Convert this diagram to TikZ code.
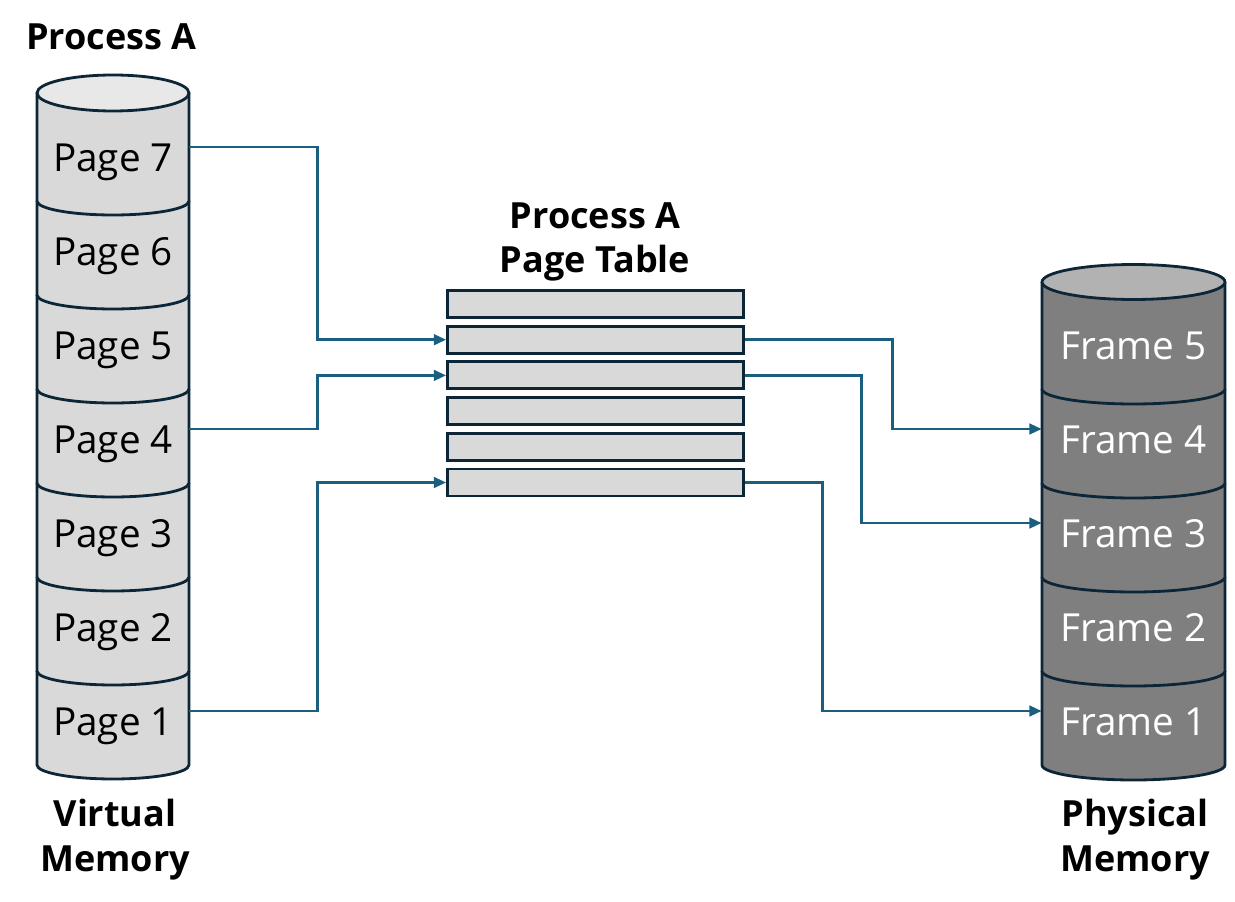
\documentclass[tikz,border=0pt]{standalone}
\usepackage{fontspec}
\setmainfont{Open Sans}
\usetikzlibrary{arrows.meta}

\definecolor{outline}{RGB}{12,38,55}
\definecolor{linkblue}{RGB}{26,94,128}
\definecolor{pagefill}{RGB}{217,217,217}
\definecolor{pagetop}{RGB}{232,232,232}
\definecolor{framefill}{RGB}{127,127,127}
\definecolor{frametop}{RGB}{178,178,178}

\begin{document}
\begin{tikzpicture}[x=0.02cm, y=-0.02cm,
	cyl/.style={draw=outline, line width=1.6pt},
	pagebox/.style={minimum width=3.04cm, text height=31pt, text depth=3pt, inner sep=0pt, font=\fontsize{22}{26}\selectfont},
	framebox/.style={pagebox, minimum width=3.66cm, text=white},
	rowbox/.style={draw=outline, line width=1.6pt, fill=pagefill, minimum width=5.92cm, minimum height=0.54cm, inner sep=0pt},
	titlebox/.style={align=center, inner sep=0pt, font=\fontsize{20.5}{25.5}\selectfont\bfseries},
	link/.style={draw=linkblue, line width=1.6pt, -{Triangle[length=7pt,width=6pt]}}]
	\useasboundingbox (0,0) rectangle (1235,902);

	% virtual memory cylinder, bottom segment first
	\foreach \t/\b in {671/765,577/671,483/577,389/483,295/389,201/295,93/201} {
		\fill[pagefill] (37,\t) -- (37,\b) arc[start angle=180, end angle=360, x radius=1.52cm, y radius=0.28cm] -- (189,\t) -- cycle;
		\draw[cyl] (37,\t) -- (37,\b) arc[start angle=180, end angle=360, x radius=1.52cm, y radius=0.28cm] -- (189,\t);
	}
	\filldraw[cyl, fill=pagetop] (113,93) ellipse [x radius=1.52cm, y radius=0.36cm];

	% physical memory cylinder
	\foreach \t/\b in {671/765,577/671,483/577,389/483,282/389} {
		\fill[framefill] (1042,\t) -- (1042,\b) arc[start angle=180, end angle=360, x radius=1.83cm, y radius=0.3cm] -- (1225,\t) -- cycle;
		\draw[cyl] (1042,\t) -- (1042,\b) arc[start angle=180, end angle=360, x radius=1.83cm, y radius=0.3cm] -- (1225,\t);
	}
	\filldraw[cyl, fill=frametop] (1133.5,282) ellipse [x radius=1.83cm, y radius=0.35cm];

	\foreach \k in {1,...,7}
		\node[pagebox] (p\k) at (113,{147+94*(7-\k)}) {Page \k};
	\foreach \k in {1,...,5}
		\node[framebox] (f\k) at (1133.5,{147+94*(7-\k)}) {Frame \k};

	% page table
	\foreach \i in {1,...,6}
		\node[rowbox] (r\i) at (595.5,{304+35.7*(\i-1)}) {};

	\node[titlebox, anchor=base] (proc) at (111.5,50) {Process A};
	\node[titlebox] (vmem) at (115,840) {Virtual\\Memory};
	\node[titlebox] (ptab) at (595,242) {Process A\\Page Table};
	\node[titlebox] (pmem) at (1135,840) {Physical\\Memory};

	\draw[link] (p7.east) -- ++(128,0) |- (r2.west);
	\draw[link] (p4.east) -- ++(128,0) |- (r3.west);
	\draw[link] (p1.east) -- ++(128,0) |- (r6.west);
	\draw[link] (r2.east) -- ++(148,0) |- (f4.west);
	\draw[link] (r3.east) -- ++(117,0) |- (f3.west);
	\draw[link] (r6.east) -- ++(78,0) |- (f1.west);
\end{tikzpicture}
\end{document}
